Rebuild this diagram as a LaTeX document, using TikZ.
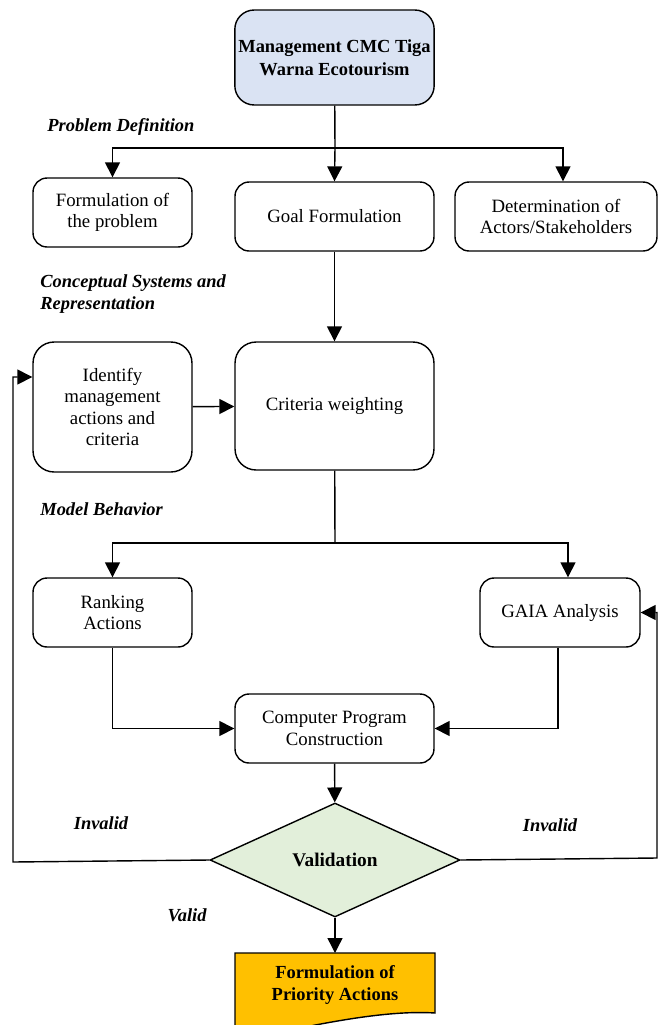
\documentclass[tikz,border=0pt]{standalone}
\usepackage{fontspec}
\setmainfont{Liberation Serif}
\usepackage{xcolor}
\usetikzlibrary{arrows.meta,shapes.geometric,calc,positioning}

\definecolor{topblue}{HTML}{DAE3F3}
\definecolor{valgreen}{HTML}{E2EFDA}
\definecolor{prioorange}{HTML}{FFC000}

\tikzset{
  procbox/.style={draw, line width=0.8pt, rounded corners=8pt, align=center,
    inner sep=2pt, font=\fontsize{10.7}{12.2}\selectfont},
  stagelbl/.style={anchor=west, align=left, inner sep=0pt,
    font=\fontsize{10.5}{12.5}\selectfont\bfseries\itshape},
  arr/.style={line width=0.8pt, -{Triangle[length=8.5pt,width=8.5pt]}},
  ln/.style={line width=0.8pt}
}

\begin{document}
\begin{tikzpicture}[x=0.02cm,y=-0.02cm]
  \useasboundingbox (0,0) rectangle (664,1025);

  % title
  \node[procbox, fill=topblue, rounded corners=11pt, minimum width=3.98cm, minimum height=1.9cm,
    font=\fontsize{10.5}{13}\selectfont\bfseries] (mgmt) at (334.5,57.5) {Management CMC Tiga\\Warna Ecotourism};

  % problem definition
  \node[stagelbl] (pdef) at (47,127) {Problem Definition};
  \node[procbox, minimum width=3.18cm, minimum height=1.38cm] (form) at (112.5,212.5) {Formulation of\\the problem};
  \node[procbox, minimum width=3.98cm, minimum height=1.38cm] (goal) at (334.5,216.5) {Goal Formulation};
  \node[procbox, minimum width=4.04cm, minimum height=1.38cm] (act) at (556,216.5) {Determination of\\Actors/Stakeholders};

  \coordinate (j1) at (335,148);
  \draw[ln] (mgmt) -- (j1);
  \draw[arr] (j1) -| (form.north);
  \draw[arr] (j1) -- (goal.north);
  \draw[arr] (j1) -| ([xshift=0.14cm]act.north);

  % conceptual systems
  \node[stagelbl] (csys) at (40,294) {Conceptual Systems and\\Representation};
  \node[procbox, rounded corners=12pt, minimum width=3.18cm, minimum height=2.6cm] (ident) at (112.5,407) {Identify\\management\\actions and\\criteria};
  \node[procbox, rounded corners=12pt, minimum width=3.98cm, minimum height=2.56cm] (crit) at (334.5,406) {Criteria weighting};
  \draw[arr] (goal) -- (crit);
  \draw[arr] (ident) -- (crit);

  % model behavior
  \node[stagelbl] (mbeh) at (40,509) {Model Behavior};
  \node[procbox, minimum width=3.18cm, minimum height=1.38cm] (rank) at (112.5,612.5) {Ranking\\Actions};
  \node[procbox, minimum width=3.2cm, minimum height=1.38cm] (gaia) at (560,612.5) {GAIA Analysis};
  \node[procbox, minimum width=3.98cm, minimum height=1.38cm] (comp) at (334.5,728.5) {Computer Program\\Construction};

  \coordinate (j2) at (335,543);
  \draw[ln] (crit) -- (j2);
  \draw[arr] (j2) -| (rank.north);
  \draw[arr] (j2) -| ([xshift=0.16cm]gaia.north);
  \draw[arr] (rank.south) |- (comp.west);
  \draw[arr] ([xshift=-0.04cm]gaia.south) |- (comp.east);

  % validation
  \node[draw, diamond, line width=0.8pt, fill=valgreen, inner sep=0pt, minimum width=5cm, minimum height=2.28cm,
    font=\fontsize{11}{13}\selectfont\bfseries] (valid) at (335,860) {Validation};
  \draw[arr] (comp) -- (valid);

  \coordinate (lft) at (13,862);
  \coordinate (rgt) at (657,858);
  \draw[arr] (valid.west) -- (lft) |- ([yshift=0.6cm]ident.west);
  \draw[arr] (valid.east) -- (rgt) |- (gaia.east);
  \node[stagelbl, anchor=center] (inl) at (101,823) {Invalid};
  \node[stagelbl, anchor=center] (inr) at (550,825) {Invalid};
  \node[stagelbl, anchor=center] (vok) at (187,915) {Valid};

  % result
  \fill[prioorange] (235,953) -- (435,953) -- (435,1013)
    .. controls (390,1010) and (330,1022) .. (290,1030) -- (235,1032) -- cycle;
  \draw[ln] (235,1032) -- (235,953) -- (435,953) -- (435,1013)
    .. controls (390,1010) and (330,1022) .. (290,1030);
  \node[align=center, inner sep=0pt, font=\fontsize{10.5}{13}\selectfont\bfseries] (prio) at (335,985) {Formulation of\\Priority Actions};
  \draw[arr] (valid.south) -- (prio.north |- 0,953);
\end{tikzpicture}
\end{document}
